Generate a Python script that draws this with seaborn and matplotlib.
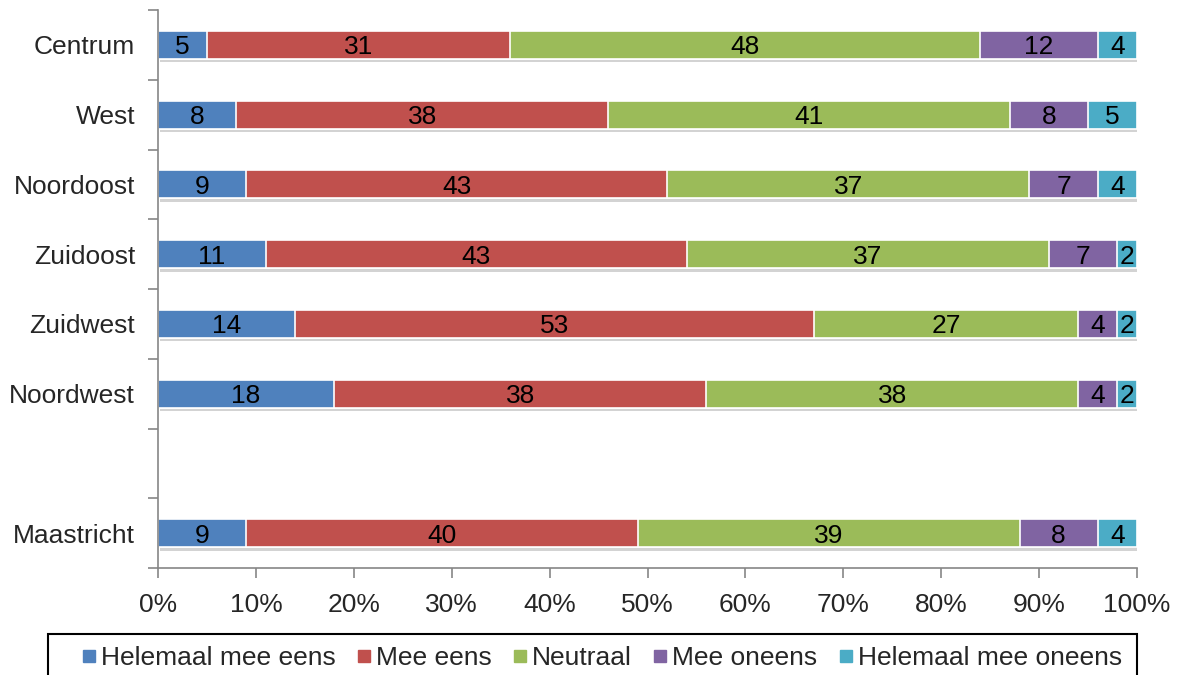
import matplotlib
matplotlib.use("Agg")
import matplotlib.pyplot as plt
import matplotlib.patheffects as pe
from matplotlib.lines import Line2D
from matplotlib.patches import Rectangle
from matplotlib.ticker import FixedLocator, PercentFormatter
import seaborn as sns
import pandas as pd
import numpy as np

categories = ["Centrum", "West", "Noordoost", "Zuidoost", "Zuidwest", "Noordwest", "Maastricht"]
order = ["Centrum", "West", "Noordoost", "Zuidoost", "Zuidwest", "Noordwest", " ", "Maastricht"]
series_names = ["Helemaal mee eens", "Mee eens", "Neutraal", "Mee oneens", "Helemaal mee oneens"]
helemaal_eens = [5, 8, 9, 11, 14, 18, 9]
mee_eens = [31, 38, 43, 43, 53, 38, 40]
neutraal = [48, 41, 37, 37, 27, 38, 39]
mee_oneens = [12, 8, 7, 7, 4, 4, 8]
helemaal_oneens = [4, 5, 4, 2, 2, 2, 4]
colors = ["#4F81BD", "#C0504D", "#9BBB59", "#8064A2", "#4BACC6"]

sns.set_style("white")
plt.rcParams["font.family"] = ["Liberation Sans", "DejaVu Sans"]
FS = 19

series = [helemaal_eens, mee_eens, neutraal, mee_oneens, helemaal_oneens]
vals = np.array(series, dtype=float)
cum = np.cumsum(vals, axis=0)

fig = plt.figure(figsize=(11.79, 6.75), dpi=100)
ax = fig.add_axes([158 / 1179, 1 - 568 / 675, (1137 - 158) / 1179, (568 - 10) / 675])

for i in range(len(series) - 1, -1, -1):
    df = pd.DataFrame({"cat": categories, "val": cum[i]})
    sns.barplot(data=df, y="cat", x="val", order=order, color=colors[i],
                orient="h", width=0.4, saturation=1, edgecolor="white",
                linewidth=1.2, ax=ax)
    if i == len(series) - 1:
        for p in ax.patches:
            p.set_path_effects([pe.SimplePatchShadow(offset=(1.5, -2.5), shadow_rgbFace="#707070", alpha=0.3),
                                pe.Normal()])

# value labels
for j, cat in enumerate(categories):
    ypos = order.index(cat)
    for i in range(len(series)):
        center = cum[i, j] - vals[i, j] / 2
        ax.annotate(f"{int(vals[i, j])}", xy=(center, ypos), xytext=(0, -6.8),
                    textcoords="offset points", ha="center", va="baseline",
                    fontsize=FS, color="black")

ax.set_xlim(0, 100)
ax.set_ylim(7.5, -0.5)
ax.set_xlabel("")
ax.set_ylabel("")
ax.set_xticks(np.arange(0, 101, 10))
ax.xaxis.set_major_formatter(PercentFormatter(decimals=0))
ax.tick_params(axis="x", labelsize=FS, length=7, width=1.2, color="#868686", pad=11, direction="out", bottom=True)
ax.tick_params(axis="y", which="major", labelsize=FS, length=0, pad=16.5)
ax.yaxis.set_minor_locator(FixedLocator(np.arange(-0.5, 8, 1)))
ax.tick_params(axis="y", which="minor", length=7, width=1.2, color="#868686", left=True, direction="out")
for s in ["top", "right"]:
    ax.spines[s].set_visible(False)
for s in ["left", "bottom"]:
    ax.spines[s].set_color("#868686")
    ax.spines[s].set_linewidth(1.2)

# legend frame (bottom cut off by figure edge, as in the reference)
fig.patches.append(Rectangle((48 / 1179, -0.05), (1137 - 48) / 1179, 0.05 + (675 - 634) / 675,
                             transform=fig.transFigure, fill=False, edgecolor="black",
                             linewidth=1.5, zorder=5))

handles = [Line2D([0], [0], marker="s", linestyle="none", markersize=8, color=c) for c in colors]
leg = fig.legend(handles, series_names, loc="center", bbox_to_anchor=(601.5 / 1179, 1 - 658 / 675),
                 ncol=5, frameon=False, fontsize=FS, handletextpad=0.15,
                 columnspacing=0.78, borderpad=0, borderaxespad=0, handlelength=0.6)

fig.savefig("out.png", dpi=100)
